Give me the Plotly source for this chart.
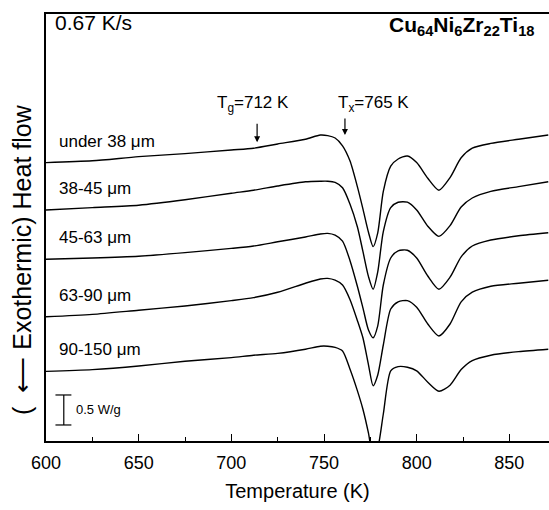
import plotly.graph_objects as go

# ---------------- data ----------------
temperature_K = [600, 625, 650, 675, 700, 712, 725, 740, 748, 752, 756, 760, 764, 768, 771,
                 774, 776.5, 779, 782, 786, 790, 795, 800, 806, 812, 818, 824, 830, 840, 855, 871]

# heat flow (W/g, curves shifted as in the figure)
hf_under38 = [4.64, 4.67, 4.74, 4.79, 4.85, 4.88, 4.95, 5.03, 5.10, 5.09, 5.05, 4.92, 4.67, 4.24, 3.87,
              3.48, 3.24, 3.47, 4.16, 4.58, 4.70, 4.75, 4.64, 4.38, 4.18, 4.39, 4.72, 4.88, 4.96, 5.03, 5.10]
hf_38_45 = [3.85, 3.89, 3.93, 4.02, 4.13, 4.18, 4.25, 4.32, 4.33, 4.33, 4.31, 4.22, 3.95, 3.57, 3.16,
            2.74, 2.53, 2.82, 3.49, 3.89, 3.98, 3.98, 3.85, 3.58, 3.41, 3.59, 3.90, 4.05, 4.16, 4.24, 4.32]
hf_45_63 = [3.03, 3.05, 3.08, 3.14, 3.21, 3.25, 3.32, 3.40, 3.45, 3.46, 3.43, 3.33, 3.01, 2.58, 2.22,
            1.85, 1.72, 1.92, 2.60, 3.05, 3.17, 3.18, 3.05, 2.75, 2.53, 2.73, 3.07, 3.25, 3.35, 3.42, 3.47]
hf_63_90 = [2.07, 2.11, 2.18, 2.25, 2.34, 2.39, 2.48, 2.63, 2.70, 2.71, 2.68, 2.60, 2.36, 2.01, 1.72,
            1.27, 0.92, 1.10, 1.60, 2.20, 2.32, 2.34, 2.23, 1.95, 1.75, 1.95, 2.32, 2.48, 2.58, 2.63, 2.68]
hf_90_150 = [1.16, 1.19, 1.25, 1.33, 1.39, 1.43, 1.46, 1.53, 1.58, 1.58, 1.56, 1.50, 1.20, 0.84, 0.53,
             0.13, -0.27, -0.12, 0.45, 1.17, 1.24, 1.23, 1.17, 0.98, 0.83, 0.93, 1.19, 1.34, 1.43, 1.49, 1.53]

series_values = [hf_under38, hf_38_45, hf_45_63, hf_63_90, hf_90_150]
series_labels = ["under 38 \u03bcm", "38-45 \u03bcm", "45-63 \u03bcm", "63-90 \u03bcm", "90-150 \u03bcm"]

x_major_ticks = [600, 650, 700, 750, 800, 850]
x_minor_ticks = [625, 675, 725, 775, 825]
x_range = [600, 871.4]
y_range = [0, 7.117]

Tg_K = 712
Tx_K = 765
heating_rate = "0.67 K/s"
scale_bar_Wg = 0.5

FONT = "Liberation Sans, Arial, Helvetica, sans-serif"

fig = go.Figure()
for vals, name in zip(series_values, series_labels):
    fig.add_trace(go.Scatter(
        x=temperature_K, y=vals, mode="lines", name=name,
        line=dict(color="black", width=1.4, shape="spline", smoothing=0.7),
        showlegend=False, hoverinfo="skip"))

annotations = []
# curve labels
for vals, name in zip(series_values, series_labels):
    annotations.append(dict(x=605.7, y=vals[0] + 0.36, xref="x", yref="y", text=name,
                            showarrow=False, xanchor="left", yanchor="middle",
                            font=dict(family=FONT, size=17, color="black")))

# heating rate and composition
annotations.append(dict(x=0.014, y=0.979, xref="paper", yref="paper", text=heating_rate,
                        showarrow=False, xanchor="left", yanchor="middle",
                        font=dict(family=FONT, size=21, color="black")))
annotations.append(dict(x=0.976, y=0.972, xref="paper", yref="paper",
                        text="<b>Cu<sub>64</sub>Ni<sub>6</sub>Zr<sub>22</sub>Ti<sub>18</sub></b>",
                        showarrow=False, xanchor="right", yanchor="middle",
                        font=dict(family=FONT, size=21, color="black")))

# Tg / Tx labels and arrows
annotations.append(dict(x=691.2, y=5.62, xref="x", yref="y",
                        text=f"T<sub>g</sub>={Tg_K} K", showarrow=False,
                        xanchor="left", yanchor="middle",
                        font=dict(family=FONT, size=17, color="black")))
annotations.append(dict(x=756.5, y=5.62, xref="x", yref="y",
                        text=f"T<sub>x</sub>={Tx_K} K", showarrow=False,
                        xanchor="left", yanchor="middle",
                        font=dict(family=FONT, size=17, color="black")))
annotations.append(dict(x=713.9, y=4.98, xref="x", yref="y", text="", showarrow=True,
                        ax=0, ay=-20, arrowhead=2, arrowsize=1, arrowwidth=1.2,
                        arrowcolor="black"))
annotations.append(dict(x=761.3, y=5.10, xref="x", yref="y", text="", showarrow=True,
                        ax=0, ay=-18, arrowhead=2, arrowsize=1, arrowwidth=1.2,
                        arrowcolor="black"))

# scale bar text
annotations.append(dict(x=615.1, y=0.267 + scale_bar_Wg / 2, xref="x", yref="y",
                        text=f"{scale_bar_Wg} W/g", showarrow=False,
                        xanchor="left", yanchor="middle",
                        font=dict(family=FONT, size=13, color="black")))

# y axis title (rotated)
annotations.append(dict(x=0, y=0.424, xref="paper", yref="paper", xshift=-24,
                        text="(  \u27f5 Exothermic) Heat flow", textangle=-90,
                        showarrow=False, xanchor="center", yanchor="middle",
                        font=dict(family=FONT, size=25, color="black")))

shapes = [
    dict(type="line", xref="x", yref="y", x0=609.6, x1=609.6, y0=0.267, y1=0.267 + scale_bar_Wg,
         line=dict(color="black", width=1.2)),
    dict(type="line", xref="x", yref="y", x0=605.1, x1=613.7, y0=0.267, y1=0.267,
         line=dict(color="black", width=1.2)),
    dict(type="line", xref="x", yref="y", x0=605.1, x1=613.7, y0=0.267 + scale_bar_Wg,
         y1=0.267 + scale_bar_Wg, line=dict(color="black", width=1.2)),
]

fig.update_layout(
    width=549, height=510,
    margin=dict(l=46, r=0, t=14, b=69),
    paper_bgcolor="white", plot_bgcolor="white",
    font=dict(family=FONT, color="black"),
    annotations=annotations, shapes=shapes,
    xaxis=dict(range=x_range, showline=True, linecolor="black", linewidth=1.5, mirror=True,
               ticks="inside", ticklen=7, tickwidth=1, tickcolor="black",
               tickvals=x_major_ticks, ticktext=[str(v) for v in x_major_ticks],
               minor=dict(tickvals=x_minor_ticks, ticks="inside", ticklen=4, tickcolor="black"),
               tickfont=dict(size=18, family=FONT), ticklabelstandoff=5,
               showgrid=False, zeroline=False,
               title=dict(text="Temperature (K)", font=dict(size=20, family=FONT), standoff=12)),
    yaxis=dict(range=y_range, showline=True, linecolor="black", linewidth=1.5, mirror=False,
               showticklabels=False, ticks="", showgrid=False, zeroline=False),
)

fig.write_html("out.html")
